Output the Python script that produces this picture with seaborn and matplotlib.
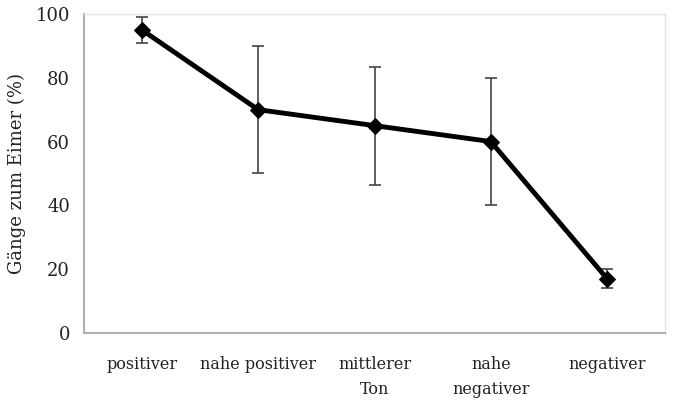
import numpy as np
import pandas as pd
import matplotlib
matplotlib.use("Agg")
import matplotlib.pyplot as plt
import seaborn as sns
from matplotlib.ticker import FixedLocator

categories = ["positiver", "nahe positiver", "mittlerer\nTon", "nahe\nnegativer", "negativer"]
values = [95, 70, 65, 60, 17]
errors = [4, 20, 18.5, 20, 3]
y_ticks = [0, 20, 40, 60, 80, 100]

sns.set_style("white")
plt.rcParams['font.family'] = ['DejaVu Serif']

df = pd.DataFrame({"pos": np.arange(len(categories)), "val": values, "err": errors})

fig = plt.figure(figsize=(6.76, 4.01), dpi=100)
ax = fig.add_axes([0.124, 0.170, 0.860, 0.795])

ax.errorbar(df["pos"], df["val"], yerr=df["err"], fmt="none", ecolor="#444444",
            elinewidth=1.2, capsize=4, capthick=1.2, zorder=2)
sns.lineplot(data=df, x="pos", y="val", color="black", linewidth=3.5,
             marker="D", markersize=8, markeredgecolor="black", ax=ax, zorder=3)

ax.set_xlim(-0.5, len(categories) - 0.5)
ax.set_ylim(0, 100)
ax.set_yticks(y_ticks)
ax.set_xticks(df["pos"])
ax.set_xticklabels(categories, fontsize=11.5, linespacing=1.55, color="#222222")
ax.xaxis.set_minor_locator(FixedLocator(np.arange(-0.5, len(categories), 1.0)))
ax.tick_params(axis="x", which="major", length=0, pad=17)
ax.tick_params(axis="x", which="minor", length=5, width=1.2, color="#b0b0b0", direction="out")
ax.tick_params(axis="y", length=6, width=1.2, color="#b0b0b0", direction="out", labelsize=13,
               pad=4, labelcolor="#222222")
ax.set_xlabel("")
ax.set_ylabel("Gänge zum Eimer (%)", fontsize=13, labelpad=7, color="#222222")

for s in ["left", "bottom"]:
    ax.spines[s].set_color("#b0b0b0")
    ax.spines[s].set_linewidth(1.5)
for s in ["top", "right"]:
    ax.spines[s].set_color("#e4e4e4")
    ax.spines[s].set_linewidth(1.0)

fig.savefig("out.png", dpi=100)
